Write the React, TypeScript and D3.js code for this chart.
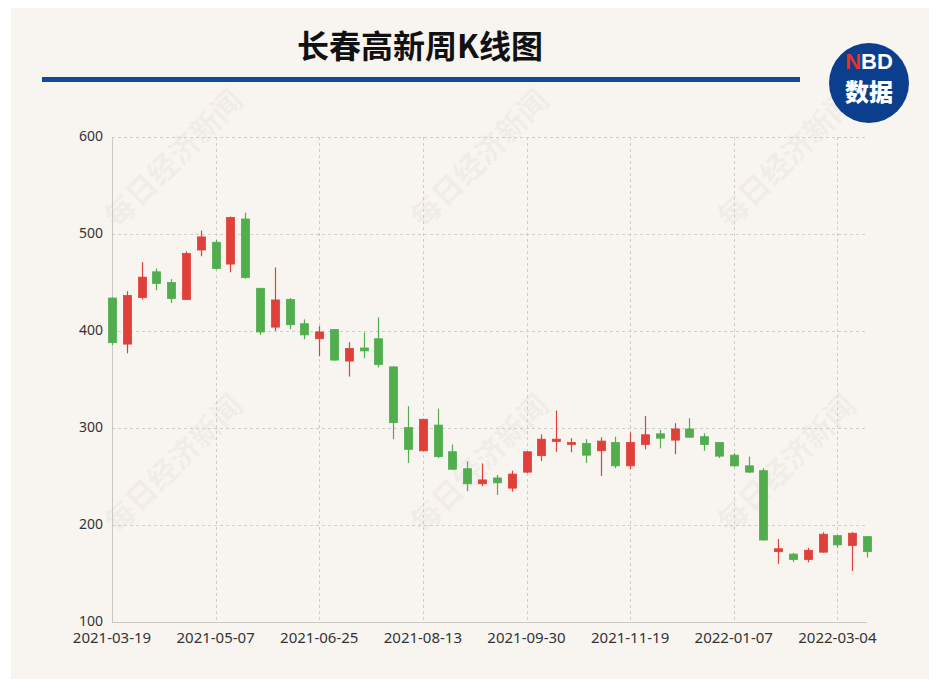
import { useEffect, useRef } from 'react';
import * as d3 from 'd3';

// weekly bars
const weeks = [
  '2021-03-19', '2021-03-26', '2021-04-02', '2021-04-09', '2021-04-16', '2021-04-23', '2021-04-30',
  '2021-05-07', '2021-05-14', '2021-05-21', '2021-05-28', '2021-06-04', '2021-06-11', '2021-06-18',
  '2021-06-25', '2021-07-02', '2021-07-09', '2021-07-16', '2021-07-23', '2021-07-30', '2021-08-06',
  '2021-08-13', '2021-08-20', '2021-08-27', '2021-09-03', '2021-09-10', '2021-09-17', '2021-09-24',
  '2021-09-30', '2021-10-08', '2021-10-15', '2021-10-22', '2021-10-29', '2021-11-05', '2021-11-12',
  '2021-11-19', '2021-11-26', '2021-12-03', '2021-12-10', '2021-12-17', '2021-12-24', '2021-12-31',
  '2022-01-07', '2022-01-14', '2022-01-21', '2022-01-28', '2022-02-11', '2022-02-18', '2022-02-25',
  '2022-03-04', '2022-03-11', '2022-03-18',
];

const opens = [
  434, 386.5, 434.5, 461, 450, 432.5, 483.5, 491.5, 469, 515.5, 444, 404, 432.5, 407.5, 392, 401.5,
  369, 382.5, 392, 363, 300.5, 276.5, 303, 275.5, 258, 242.5, 248.5, 238, 254.5, 271.5, 286, 283,
  284, 276.5, 285, 261, 283, 294, 287.5, 299, 291, 285, 272, 261, 256, 172.5, 170, 164.5, 172, 189,
  179, 188,
];

const closes = [
  388, 436.5, 455.5, 449, 433.5, 480, 497, 464.5, 517, 455, 399, 432, 406.5, 396, 399, 370, 382,
  379.5, 365.5, 305.5, 278, 309, 270.5, 257.5, 242.5, 246.5, 243.5, 252.5, 275.5, 288.5, 288.5, 285,
  272, 286.5, 261, 285, 293, 289.5, 299, 290.5, 283, 271, 261, 254.5, 184.5, 175.5, 164.5, 174,
  190.5, 179.5, 191.5, 172.5,
];

const lows = [
  385.5, 377, 432.5, 442, 429, 432, 477, 463.5, 460.5, 454, 396, 400, 402, 391.5, 374, 369.5, 353,
  372, 362.5, 288.5, 264, 276, 269, 257, 235, 240, 231, 234.5, 253.5, 266, 275.5, 275, 264, 250.5,
  258.5, 257.5, 278, 279, 273, 290, 276.5, 269, 260, 253.5, 184, 160, 162, 161.5, 171.5, 176.5,
  152.5, 166.5,
];

const highs = [
  434.5, 441, 471, 464.5, 453.5, 482, 503.5, 494, 518, 522, 444.5, 465.5, 434, 412, 405, 402, 388.5,
  398.5, 414, 363.5, 322.5, 309.5, 320, 283, 265.5, 263.5, 251.5, 256, 276, 293.5, 318, 289.5,
  288.5, 290.5, 291, 295.5, 312.5, 298, 305, 310, 294.5, 285.5, 274, 270.5, 258.5, 185.5, 171,
  176.5, 192.5, 190, 192.5, 188.5,
];

const yTicks = [100, 200, 300, 400, 500, 600];
const labelEvery = 7;

const UP = '#e0403a';
const DOWN = '#52ad4f';
const GRID = '#cfcccc';
const TEXT = '#333';

export default function App() {
  const svgRef = useRef<SVGSVGElement>(null);

  useEffect(() => {
    if (!svgRef.current) return;
    const W = 937;
    const H = 687;
    const left = 112;
    const right = 867;
    const top = 137;
    const bottom = 622;

    const svg = d3.select(svgRef.current);
    svg.selectAll('*').remove();
    svg.attr('width', W).attr('height', H);

    svg.append('rect').attr('width', W).attr('height', H).attr('fill', '#fff');
    svg.append('rect').attr('x', 11).attr('width', W - 11).attr('height', H).attr('fill', '#f8f5f0');

    // watermark
    const wm = svg.append('g').attr('pointer-events', 'none');
    [157, 462].forEach((cy) =>
      [172, 478, 785].forEach((cx) => {
        wm.append('text')
          .attr('transform', `translate(${cx},${cy}) rotate(-45)`)
          .attr('text-anchor', 'middle')
          .attr('dominant-baseline', 'central')
          .attr('font-family', '"Noto Sans CJK SC", sans-serif')
          .attr('font-weight', 700)
          .attr('font-size', 30)
          .attr('fill', '#000')
          .attr('fill-opacity', 0.05)
          .text('每日经济新闻');
      })
    );

    // header
    svg.append('text')
      .attr('x', 420)
      .attr('y', 58)
      .attr('text-anchor', 'middle')
      .attr('font-family', '"Noto Sans CJK SC", sans-serif')
      .attr('font-weight', 700)
      .attr('font-size', 32)
      .attr('fill', '#111')
      .text('长春高新周K线图');

    svg.append('rect')
      .attr('x', 42)
      .attr('y', 77)
      .attr('width', 758)
      .attr('height', 5)
      .attr('fill', '#0f4a9b');

    const logo = svg.append('g').attr('transform', 'translate(869,83)');
    logo.append('circle').attr('r', 40).attr('fill', '#0b3f8e');
    const nbd = logo.append('text')
      .attr('y', -14)
      .attr('text-anchor', 'middle')
      .attr('font-family', '"Liberation Sans", Arial, sans-serif')
      .attr('font-weight', 700)
      .attr('font-size', 22)
      .attr('fill', '#fff');
    nbd.append('tspan').attr('fill', '#e8312f').text('N');
    nbd.append('tspan').text('BD');
    logo.append('text')
      .attr('y', 18)
      .attr('text-anchor', 'middle')
      .attr('font-family', '"Noto Sans CJK SC", sans-serif')
      .attr('font-weight', 900)
      .attr('font-size', 24)
      .attr('fill', '#fff')
      .text('数据');

    const x = d3.scalePoint<string>().domain(weeks).range([left, right]);
    const y = d3.scaleLinear().domain([100, 600]).range([bottom, top]);

    // grid
    const g = svg.append('g');
    g.selectAll('.hgrid')
      .data(yTicks.filter((t) => t > 100))
      .enter()
      .append('line')
      .attr('x1', left)
      .attr('x2', right)
      .attr('y1', (d) => Math.round(y(d)) + 0.5)
      .attr('y2', (d) => Math.round(y(d)) + 0.5)
      .attr('stroke', GRID)
      .attr('stroke-dasharray', '3,3');

    const labelled = weeks.filter((_, i) => i % labelEvery === 0);
    g.selectAll('.vgrid')
      .data(labelled.slice(1))
      .enter()
      .append('line')
      .attr('x1', (d) => Math.round(x(d)!) + 0.5)
      .attr('x2', (d) => Math.round(x(d)!) + 0.5)
      .attr('y1', top)
      .attr('y2', bottom)
      .attr('stroke', GRID)
      .attr('stroke-dasharray', '3,3');

    g.append('line')
      .attr('x1', left + 0.5).attr('x2', left + 0.5)
      .attr('y1', top).attr('y2', bottom)
      .attr('stroke', '#c8c8c8');
    g.append('line')
      .attr('x1', left).attr('x2', right)
      .attr('y1', bottom + 0.5).attr('y2', bottom + 0.5)
      .attr('stroke', '#c8c8c8');

    g.selectAll('.ylab')
      .data(yTicks)
      .enter()
      .append('text')
      .attr('x', left - 9)
      .attr('y', (d) => y(d) + 4)
      .attr('text-anchor', 'end')
      .attr('font-family', '"Noto Sans", sans-serif')
      .attr('font-size', 14)
      .attr('fill', TEXT)
      .text((d) => d);

    g.selectAll('.xlab')
      .data(labelled)
      .enter()
      .append('text')
      .attr('x', (d) => x(d)!)
      .attr('y', 643)
      .attr('text-anchor', 'middle')
      .attr('font-family', '"Noto Sans", sans-serif')
      .attr('font-size', 15)
      .attr('fill', TEXT)
      .text((d) => d);

    // candles
    const bars = weeks.map((d, i) => ({
      d,
      o: opens[i],
      c: closes[i],
      l: lows[i],
      h: highs[i],
    }));
    const bw = 8;
    const cg = svg.append('g');
    cg.selectAll('.wick')
      .data(bars)
      .enter()
      .append('line')
      .attr('x1', (b) => Math.round(x(b.d)!) + 0.5)
      .attr('x2', (b) => Math.round(x(b.d)!) + 0.5)
      .attr('y1', (b) => y(b.h))
      .attr('y2', (b) => y(b.l))
      .attr('stroke', (b) => (b.c >= b.o ? UP : DOWN))
      .attr('stroke-width', 1.2);

    cg.selectAll('.body')
      .data(bars)
      .enter()
      .append('rect')
      .attr('x', (b) => Math.round(x(b.d)!) + 0.5 - bw / 2)
      .attr('y', (b) => y(Math.max(b.o, b.c)))
      .attr('width', bw)
      .attr('height', (b) => Math.max(1.5, Math.abs(y(b.o) - y(b.c))))
      .attr('fill', (b) => (b.c >= b.o ? UP : DOWN))
      .attr('stroke', (b) => (b.c >= b.o ? UP : DOWN))
      .attr('stroke-width', 0.8);
  }, []);

  return (
    <div style={{ margin: -8, lineHeight: 0 }}>
      <svg ref={svgRef} role="img" aria-label="长春高新周K线图" />
    </div>
  );
}
